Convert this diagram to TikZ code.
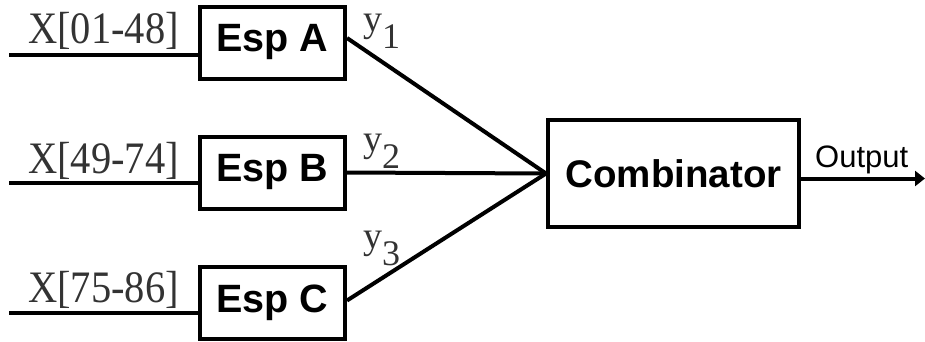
\documentclass[tikz,border=0pt]{standalone}
\usepackage{fontspec}
\setmainfont{Liberation Serif}
\newfontfamily\arialfont{Liberation Sans}
\usetikzlibrary{arrows.meta}
\definecolor{labelgray}{HTML}{333333}
\tikzset{
  espbox/.style={draw, line width=4pt, minimum width=145pt, minimum height=72pt, inner sep=0pt,
    font=\arialfont\bfseries\fontsize{39.5}{39.5}\selectfont},
  combbox/.style={draw, line width=4pt, minimum width=251pt, minimum height=107pt, inner sep=0pt,
    font=\arialfont\bfseries\fontsize{38.5}{38.5}\selectfont},
  wire/.style={line width=4pt},
  xlabel/.style={anchor=base west, inner sep=0pt, text=labelgray, font=\fontsize{45}{45}\selectfont},
  ylabel/.style={anchor=base west, inner sep=0pt, text=labelgray, font=\fontsize{38}{38}\selectfont},
  outlabel/.style={anchor=base west, inner sep=0pt, font=\arialfont\fontsize{31}{31}\selectfont}
}
\newcommand{\ysub}[1]{y\raisebox{-17pt}{\fontsize{36}{36}\selectfont #1}}
\begin{document}
\begin{tikzpicture}[x=1pt,y=-1pt]
\useasboundingbox (0,0) rectangle (925,341);
% boxes
\node[espbox] (A) at (272.5,42.5) {Esp A};
\node[espbox] (B) at (272.5,172.5) {Esp B};
\node[espbox] (C) at (272.5,302.5) {Esp C};
\node[combbox] (K) at (673.5,173.5) {Combinator};
% inputs
\coordinate (inA) at (9,55);
\coordinate (inB) at (9,183);
\coordinate (inC) at (9,313);
\draw[wire] (inA) -- (inA -| A.west);
\draw[wire] (inB) -- (inB -| B.west);
\draw[wire] (inC) -- (inC -| C.west);
% outputs to combinator
\draw[wire] ([yshift=4.5pt]A.east) -- (K.west);
\draw[wire] (B.east) -- (K.west);
\draw[wire] ([yshift=2pt]C.east) -- (K.west);
% final output
\coordinate (out) at (925,178.5);
\draw[wire, -{Triangle[length=10pt,width=15pt]}] (K.east |- out) -- (out);
% labels
\node[xlabel] (lA) at (28,43) {\scalebox{0.9}[1]{X[01-48]}};
\node[xlabel] (lB) at (28,173) {\scalebox{0.9}[1]{X[49-74]}};
\node[xlabel] (lC) at (28,302) {\scalebox{0.9}[1]{X[75-86]}};
\node[ylabel] (y1) at (363,31) {\ysub{1}};
\node[ylabel] (y2) at (363,151) {\ysub{2}};
\node[ylabel] (y3) at (363,248) {\ysub{3}};
\node[outlabel] (ol) at (815,167) {Output};
\end{tikzpicture}
\end{document}
